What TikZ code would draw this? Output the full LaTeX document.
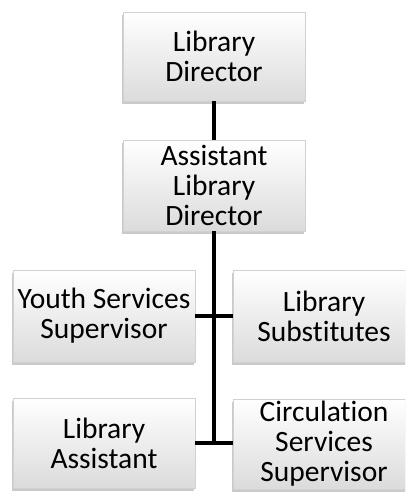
\documentclass[tikz,border=0pt]{standalone}
\usepackage{fontspec}
\setmainfont{Carlito}[Ligatures={NoCommon}]
\usetikzlibrary{shadows}
\begin{document}
\begin{tikzpicture}[x=1pt,y=-1pt,
  orgbox/.style={rectangle, minimum width=182pt, inner sep=0pt,
    top color=white, bottom color=black!14, draw=black!18, line width=0.6pt,
    drop shadow={shadow xshift=-1.5pt, shadow yshift=-3pt, opacity=0.35, fill=black!60},
    align=center, font=\fontsize{29.5}{30}\selectfont},
  link/.style={line width=4.5pt, black}]
\useasboundingbox (0,0) rectangle (405,492);
\clip (0,0) rectangle (405,492);
\node[orgbox, minimum height=89pt] (dir) at (214,56.5) {Library\\Director};
\node[orgbox, minimum height=91pt] (adir) at (214,185.5) {Assistant\\Library\\Director};
\node[orgbox, minimum height=92pt] (youth) at (104,316) {Youth Services\\Supervisor};
\node[orgbox, minimum height=92pt] (subs) at (324,316) {Library\\Substitutes};
\node[orgbox, minimum height=90pt] (asst) at (104,443) {Library\\Assistant};
\node[orgbox, minimum height=90pt] (circ) at (324,444) {Circulation\\Services\\Supervisor};
\coordinate (jend) at (214,445);
\draw[link] (dir.south) -- (adir.north);
\draw[link] (adir.south) -- (jend);
\draw[link] (youth.east) -- (subs.west);
\draw[link] (asst.east) -- (asst.east -| circ.west);
\end{tikzpicture}
\end{document}
